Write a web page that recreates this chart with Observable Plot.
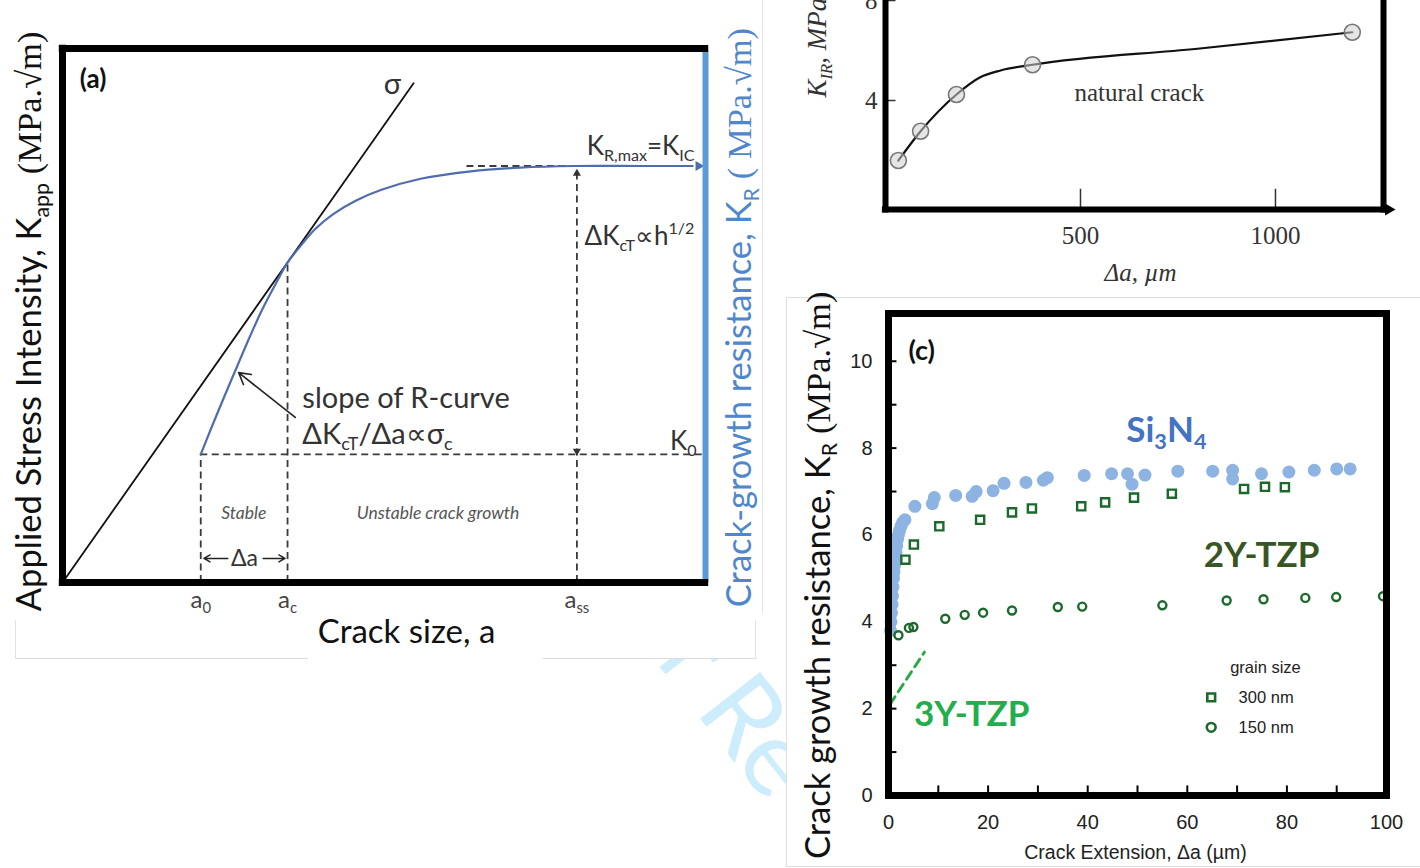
<!DOCTYPE html>
<html><head><meta charset="utf-8">
<script src="https://cdn.jsdelivr.net/npm/d3@7"></script>
<script src="https://cdn.jsdelivr.net/npm/@observablehq/plot@0.6"></script>
<style>
body{margin:0;background:#fff;}
#page{position:relative;width:1420px;height:868px;overflow:hidden;background:#fff;}
.abs{position:absolute;}
</style></head><body><div id="page">
<svg class="abs" width="1420" height="868" style="left:0;top:0">
  <text x="584" y="570" transform="rotate(52 584 570)" font-family="Lato, sans-serif" font-size="106" fill="#cdedfc">For Re</text>
</svg>
<div class="abs" style="left:0;top:0;width:755px;height:658px;background:#fff"></div>
<div class="abs" style="left:755px;top:0;width:7px;height:613px;background:#fff"></div>
<div class="abs" style="left:762px;top:0;width:0;height:613px;border-left:1px solid #e2e2e2"></div>
<div class="abs" style="left:15px;top:620px;width:292px;height:38px;border-left:1px solid #e2e2e2;border-bottom:1px solid #dcdcdc"></div>
<div class="abs" style="left:543px;top:620px;width:212px;height:38px;border-bottom:1px solid #dcdcdc;border-right:1px solid #e2e2e2"></div>
<div class="abs" style="left:786px;top:297px;width:634px;height:568px;background:#fff;border-left:1px solid #dedede;border-top:1px solid #dedede;border-bottom:1px solid #dedede"></div>
<div id="pa" class="abs" style="left:0;top:0;width:760px;height:660px"></div>
<div id="pb" class="abs" style="left:780px;top:0;width:640px;height:300px"></div>
<div id="pc" class="abs" style="left:780px;top:290px;width:640px;height:578px"></div>
</div>
<script>
// ---------------- Panel (a): schematic R-curve ----------------
const a0 = 2.15, ac = 3.5, ass = 8.0;          // crack sizes
const K0 = 2.4, Kc = 5.99, KIC = 7.8;          // stress intensities
const crackSizeTicks = [a0, ac, ass];
const crackSizeTickLabels = ["a_{0}", "a_{c}", "a_{ss}"];
const sigmaA = [0, 5.46];
const sigmaK = [0, 9.35];
const rCurveA = [2.15, 2.33, 2.53, 2.72, 2.92, 3.11, 3.31, 3.50, 3.70, 3.93, 4.21, 4.56, 4.95, 5.57, 6.35, 7.12, 7.95, 8.99, 9.80];
const rCurveK = [2.40, 2.94, 3.52, 4.06, 4.62, 5.12, 5.58, 5.99, 6.30, 6.62, 6.90, 7.15, 7.35, 7.56, 7.70, 7.77, 7.80, 7.80, 7.80];
const headsA = [
  {x: 9.89, y: 7.80, angle: 90, r: 4.3, color: "#4e6cae"},
  {x: 8.0, y: 7.66, angle: 0, r: 2.8, color: "#333"},
  {x: 8.0, y: 2.46, angle: 180, r: 2.8, color: "#333"}
];
const deltaArrows = [
  {x1: 2.57, y1: 0.45, x2: 2.20, y2: 0.45},
  {x1: 3.12, y1: 0.45, x2: 3.46, y2: 0.45}
];
const slopeArrow = [{x1: 3.62, y1: 3.09, x2: 2.74, y2: 3.93}];

// ---------------- Panel (b): natural crack ----------------
const naturalDa = [33, 90, 182, 377, 1197];
const naturalK = [1.60, 2.77, 4.24, 5.43, 6.73];
const naturalCurveDa = [33, 90, 182, 243, 295, 377, 800, 1197];
const naturalCurveK = [1.60, 2.77, 4.24, 4.93, 5.20, 5.43, 6.07, 6.73];
const bXTicks = [500, 1000];
const bYTicks = [4, 8];

// ---------------- Panel (c): measured R-curves ----------------
const si3n4Da = [0.4, 0.5, 0.6, 0.7, 0.8, 0.9, 1.0, 1.1, 1.2, 1.35, 1.5, 1.65, 1.8, 2.0, 2.2, 2.5, 2.8, 3.3,
  5.3, 8.8, 9.2, 13.5, 16.8, 17.6, 21.0, 23.2, 27.6, 31.1, 31.9, 39.3, 44.8, 48.0, 48.9, 51.5, 58.1, 65.1, 69.1, 69.1, 74.9, 80.4, 85.5, 90.0, 92.7];
const si3n4K = [3.8, 4.0, 4.2, 4.4, 4.6, 4.8, 5.0, 5.15, 5.3, 5.45, 5.6, 5.75, 5.9, 6.0, 6.1, 6.2, 6.28, 6.35,
  6.66, 6.72, 6.86, 6.91, 6.89, 7.0, 7.02, 7.19, 7.21, 7.26, 7.32, 7.37, 7.41, 7.41, 7.17, 7.38, 7.47, 7.47, 7.49, 7.29, 7.41, 7.45, 7.49, 7.52, 7.52];
const tzp300Da = [3.4, 5.1, 10.2, 18.4, 24.8, 28.8, 38.7, 43.5, 49.3, 56.9, 71.4, 75.6, 79.6];
const tzp300K = [5.43, 5.78, 6.20, 6.35, 6.52, 6.61, 6.66, 6.75, 6.86, 6.95, 7.06, 7.11, 7.10];
const tzp150Da = [2.0, 4.1, 5.0, 11.4, 15.3, 19.0, 24.8, 34.0, 38.9, 55.0, 67.9, 75.3, 83.7, 89.9, 99.3];
const tzp150K = [3.69, 3.86, 3.88, 4.07, 4.16, 4.21, 4.26, 4.34, 4.35, 4.38, 4.49, 4.52, 4.55, 4.57, 4.59];
const tzp3yDa = [0.3, 7.2];
const tzp3yK = [2.1, 3.3];
const cXTickLabels = [0, 20, 40, 60, 80, 100];
const cYTickLabels = [0, 2, 4, 6, 8, 10];
const cXTickMarks = [10, 20, 30, 40, 50, 60, 70, 80, 90];
const cYTickMarks = [1, 2, 3, 4, 5, 6, 7, 8, 9, 10];
const legendSymbols = ["square", "circle"];
const legendLabels = ["300 nm", "150 nm"];
const legendK = [2.26, 1.57];

const zip = (xs, ys) => xs.map((x, i) => ({x, y: ys[i]}));
const dash = {stroke: "#3a3a3a", strokeWidth: 1.8, strokeDasharray: "7,4.5"};
const LATO = "Lato, sans-serif";
const SERIF = "'Liberation Serif', 'Times New Roman', serif";
const SANS = "'Liberation Sans', Arial, sans-serif";

const plotA = Plot.plot({
  width: 760, height: 660,
  marginLeft: 62, marginRight: 55, marginTop: 48, marginBottom: 78,
  x: {domain: [0, 10], axis: null, label: null},
  y: {domain: [0, 10], axis: null, label: null},
  style: {fontFamily: LATO, background: "transparent", overflow: "visible", color: "#222"},
  marks: [
    Plot.ruleY([K0], {x1: a0, x2: 10, ...dash}),
    Plot.ruleY([KIC], {x1: 6.29, x2: 9.8, ...dash}),
    Plot.ruleX([a0], {y1: 0, y2: K0, ...dash}),
    Plot.ruleX([ac], {y1: 0, y2: Kc, ...dash}),
    Plot.ruleX([ass], {y1: 0, y2: 7.62, ...dash}),
    Plot.line(zip(sigmaA, sigmaK), {x: "x", y: "y", stroke: "#111", strokeWidth: 1.8}),
    Plot.line(zip(rCurveA, rCurveK), {x: "x", y: "y", stroke: "#4e6cae", strokeWidth: 2.2, curve: "catmull-rom"}),
    Plot.dot(headsA, {x: "x", y: "y", symbol: "triangle", rotate: "angle", r: "r", fill: "color", stroke: null}),
    Plot.arrow(deltaArrows, {x1: "x1", y1: "y1", x2: "x2", y2: "y2", stroke: "#222", strokeWidth: 1.5, headLength: 7}),
    Plot.arrow(slopeArrow, {x1: "x1", y1: "y1", x2: "x2", y2: "y2", stroke: "#222", strokeWidth: 1.6, headLength: 12}),
    Plot.ruleX([10], {y1: 0, y2: 9.95, stroke: "#5b9bd5", strokeWidth: 6}),
    Plot.ruleY([0], {x1: -0.05, x2: 10.05, stroke: "#000", strokeWidth: 7}),
    Plot.ruleY([10], {x1: -0.05, x2: 10.05, stroke: "#000", strokeWidth: 7}),
    Plot.ruleX([0], {y1: -0.06, y2: 10.06, stroke: "#000", strokeWidth: 7}),
    Plot.axisX(crackSizeTicks, {tickFormat: d => crackSizeTickLabels[crackSizeTicks.indexOf(d)], tickSize: 0, tickPadding: 8, fontSize: 24, fill: "#444", label: null}),
    Plot.text(["(a)"], {x: 0.27, y: 9.42, textAnchor: "start", fontWeight: "bold", fontSize: 26, fill: "#111"}),
    Plot.text(["σ"], {x: 5.13, y: 9.33, fontSize: 29, fill: "#333"}),
    Plot.text(["K_{R,max}=K_{IC}"], {x: 9.83, y: 8.16, textAnchor: "end", fontSize: 26, fill: "#333"}),
    Plot.text(["ΔK_{cT}∝h^{1/2}"], {x: 8.12, y: 6.48, textAnchor: "start", fontSize: 26, fill: "#333"}),
    Plot.text(["slope of R-curve"], {x: 3.73, y: 3.45, textAnchor: "start", fontSize: 29, fill: "#333"}),
    Plot.text(["ΔK_{cT}/Δa∝σ_{c}"], {x: 3.73, y: 2.77, textAnchor: "start", fontSize: 29, fill: "#333"}),
    Plot.text(["K_{0}"], {x: 9.86, y: 2.64, textAnchor: "end", fontSize: 26, fill: "#333"}),
    Plot.text(["Stable"], {x: 2.82, y: 1.29, fontStyle: "italic", fontSize: 17.5, fill: "#555"}),
    Plot.text(["Unstable crack growth"], {x: 5.84, y: 1.29, fontStyle: "italic", fontSize: 17.5, fill: "#555"}),
    Plot.text(["Δa"], {x: 2.83, y: 0.45, fontSize: 23, fill: "#333"}),
    Plot.text(["Crack size, a"], {x: 5.35, y: -0.94, fontSize: 33, fill: "#111"}),
    Plot.text(["Applied Stress Intensity, K_{app} ~{(MPa.√m)}"], {x: -0.5, y: 4.89, rotate: -90, fontSize: 34.5, fill: "#111"}),
    Plot.text(["Crack-growth resistance, K_{R} ~{( MPa.√m)}"], {x: 10.54, y: 4.96, rotate: -90, fontSize: 34.5, fill: "#4f87cc"})
  ]
});

const plotB = Plot.plot({
  width: 640, height: 300,
  marginLeft: 105, marginRight: 37, marginTop: 0, marginBottom: 91,
  x: {domain: [0, 1277], axis: null, label: null},
  y: {domain: [-0.36, 8], axis: null, label: null},
  style: {fontFamily: SERIF, background: "transparent", overflow: "visible", color: "#333"},
  marks: [
    Plot.ruleX(bXTicks, {y1: -0.36, y2: 0.45, stroke: "#333", strokeWidth: 1.5}),
    Plot.ruleY(bYTicks, {x1: 0, x2: 27, stroke: "#333", strokeWidth: 1.5}),
    Plot.line(zip(naturalCurveDa, naturalCurveK), {x: "x", y: "y", curve: "monotone-x", stroke: "#111", strokeWidth: 2.2}),
    Plot.dot(zip(naturalDa, naturalK), {x: "x", y: "y", r: 8, fill: "#cfcfcf", fillOpacity: 0.55, stroke: "#777", strokeWidth: 1.6}),
    Plot.ruleX([0], {y1: -0.5, y2: 8.6, stroke: "#000", strokeWidth: 6}),
    Plot.ruleX([1277], {y1: -0.5, y2: 8.6, stroke: "#000", strokeWidth: 6}),
    Plot.ruleY([-0.36], {x1: -8, x2: 1282, stroke: "#000", strokeWidth: 6}),
    Plot.dot([{x: 1290, y: -0.36}], {x: "x", y: "y", symbol: "triangle", rotate: 90, r: 4.5, fill: "#000", stroke: null}),
    Plot.axisX(bXTicks, {tickFormat: d => String(d), tickSize: 0, tickPadding: 17, fontSize: 25, fill: "#333", label: null}),
    Plot.axisY(bYTicks, {tickFormat: d => String(d), tickSize: 0, tickPadding: 8, fontSize: 25, fill: "#333", label: null}),
    Plot.text(["natural crack"], {x: 651, y: 4.32, fontSize: 25, fill: "#333"}),
    Plot.text(["Δa, µm"], {x: 654, y: -2.88, fontStyle: "italic", fontSize: 25, fill: "#333"}),
    Plot.text(["K_{IR}, MPa√m"], {x: -174, y: 4.12, rotate: -90, textAnchor: "start", fontStyle: "italic", fontSize: 27, fill: "#333"})
  ]
});

const plotC = Plot.plot({
  width: 640, height: 578,
  marginLeft: 108, marginRight: 34, marginTop: 23, marginBottom: 73,
  x: {domain: [0, 100], axis: null, label: null},
  y: {domain: [0, 11.1], axis: null, label: null},
  style: {fontFamily: SANS, background: "transparent", overflow: "visible", color: "#222"},
  marks: [
    Plot.ruleX(cXTickMarks, {y1: 0, y2: 0.22, stroke: "#000", strokeWidth: 2}),
    Plot.ruleY(cYTickMarks, {x1: 0, x2: 1.7, stroke: "#000", strokeWidth: 2}),
    Plot.line(zip(tzp3yDa, tzp3yK), {x: "x", y: "y", stroke: "#2aa845", strokeWidth: 3, strokeDasharray: "9,6"}),
    Plot.dot(zip(si3n4Da, si3n4K), {x: "x", y: "y", r: 6.5, fill: "#8db3e2", stroke: null}),
    Plot.dot(zip(tzp300Da, tzp300K), {x: "x", y: "y", symbol: "square", r: 4.6, fill: "none", stroke: "#1b6a2c", strokeWidth: 2.4}),
    Plot.dot(zip(tzp150Da, tzp150K), {x: "x", y: "y", symbol: "circle", r: 4, fill: "none", stroke: "#1b6a2c", strokeWidth: 2.4}),
    Plot.frame({stroke: "#000", strokeWidth: 7}),
    Plot.axisX(cXTickLabels, {tickSize: 0, tickPadding: 19, fontSize: 20, fill: "#222", label: null}),
    Plot.axisY(cYTickLabels, {tickSize: 0, tickPadding: 16, fontSize: 20, fill: "#222", label: null}),
    Plot.dot(legendSymbols.map((s, i) => ({s, y: legendK[i]})), {x: 64.8, y: "y", symbol: "s", r: 4.4, fill: "none", stroke: "#1b6a2c", strokeWidth: 2.6}),
    Plot.text(legendLabels.map((t, i) => ({t, y: legendK[i]})), {x: 70.3, y: "y", text: "t", textAnchor: "start", fontSize: 16.5, fill: "#222"}),
    Plot.text(["grain size"], {x: 75.7, y: 2.95, fontSize: 16.5, fill: "#222"}),
    Plot.text(["(c)"], {x: 4.0, y: 10.23, textAnchor: "start", fontFamily: LATO, fontWeight: "bold", fontSize: 27, fill: "#111"}),
    Plot.text(["Si_{3}N_{4}"], {x: 55.8, y: 8.41, fontFamily: LATO, fontWeight: "bold", fontSize: 35, fill: "#4472c4"}),
    Plot.text(["2Y-TZP"], {x: 74.9, y: 5.51, fontFamily: LATO, fontWeight: "bold", fontSize: 35, fill: "#375623"}),
    Plot.text(["3Y-TZP"], {x: 16.7, y: 1.87, fontFamily: LATO, fontWeight: "bold", fontSize: 35, fill: "#22ae4c"}),
    Plot.text(["Crack Extension, Δa (µm)"], {x: 49.6, y: -1.31, fontSize: 19.5, fill: "#222"}),
    Plot.text(["Crack growth resistance, K_{R} ~{(MPa.√m)}"], {x: -14.06, y: 5.07, rotate: -90, fontFamily: LATO, fontSize: 34.5, fill: "#111"})
  ]
});

document.getElementById("pa").appendChild(plotA);
document.getElementById("pb").appendChild(plotB);
document.getElementById("pc").appendChild(plotC);

function rich(root) {
  const NS = "http://www.w3.org/2000/svg";
  root.querySelectorAll("text").forEach(t => {
    if (t.querySelector("tspan")) return;
    const s = t.textContent;
    if (!/[_^~]\{/.test(s)) return;
    const fs = parseFloat(getComputedStyle(t).fontSize) || 16;
    t.textContent = "";
    let shift = 0;
    const add = (str, kind) => {
      const ts = document.createElementNS(NS, "tspan");
      ts.textContent = str;
      const target = kind === "_" ? 0.22 * fs : kind === "^" ? -0.4 * fs : 0;
      if (target !== shift) { ts.setAttribute("dy", (target - shift).toFixed(2)); shift = target; }
      if (kind === "_" || kind === "^") ts.setAttribute("font-size", (fs * 0.62).toFixed(2));
      if (kind === "~") ts.setAttribute("font-family", SERIF);
      t.appendChild(ts);
    };
    const re = /([_^~])\{([^}]*)\}/g;
    let last = 0, m;
    while ((m = re.exec(s))) {
      if (m.index > last) add(s.slice(last, m.index), "");
      add(m[2], m[1]);
      last = re.lastIndex;
    }
    if (last < s.length) add(s.slice(last), "");
  });
}
[plotA, plotB, plotC].forEach(rich);
</script>
</body></html>
